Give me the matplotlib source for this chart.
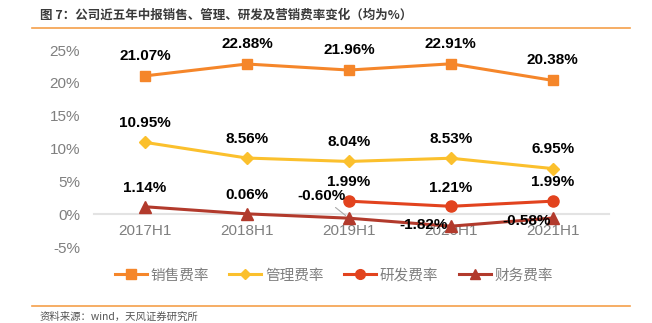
import matplotlib.pyplot as plt
from matplotlib.lines import Line2D

plt.rcParams['font.family'] = ['Liberation Sans', 'Noto Sans CJK SC', 'DejaVu Sans']

periods = ['2017H1', '2018H1', '2019H1', '2020H1', '2021H1']
sales = [21.07, 22.88, 21.96, 22.91, 20.38]
admin = [10.95, 8.56, 8.04, 8.53, 6.95]
rnd = [None, None, 1.99, 1.21, 1.99]
finance = [1.14, 0.06, -0.60, -1.82, -0.58]
series_names = ['销售费率', '管理费率', '研发费率', '财务费率']
yticks = [-5, 0, 5, 10, 15, 20, 25]

c_sales = '#F5862A'
c_admin = '#FBC02D'
c_rnd = '#E2431E'
c_fin = '#B23A2C'
gray = '#7f7f7f'
cjk = ['Noto Sans CJK SC', 'DejaVu Sans']

fig = plt.figure(figsize=(6.52, 3.23), dpi=100)
ax = fig.add_axes([0.144, 0.229, 0.790, 0.622])
x = list(range(len(periods)))

ax.plot(x, sales, color=c_sales, lw=2.2, marker='s', ms=7)
ax.plot(x, admin, color=c_admin, lw=2.2, marker='D', ms=6)
xr = [i for i, v in zip(x, rnd) if v is not None]
vr = [v for v in rnd if v is not None]
ax.plot(xr, vr, color=c_rnd, lw=2.2, marker='o', ms=8)
ax.plot(x, finance, color=c_fin, lw=2.2, marker='^', ms=8)

lab = dict(ha='center', va='center', fontsize=11, fontweight='bold', color='black')
for i, v in enumerate(sales):
    ax.annotate(f'{v:.2f}%', (i, v), xytext=(0, 14.5), textcoords='offset points', **lab)
for i, v in enumerate(admin):
    ax.annotate(f'{v:.2f}%', (i, v), xytext=(0, 14), textcoords='offset points', **lab)
for i, v in zip(xr, vr):
    ax.annotate(f'{v:.2f}%', (i, v), xytext=(0, 13.5), textcoords='offset points', **lab)
for i, v in enumerate(finance[:2]):
    ax.annotate(f'{v:.2f}%', (i, v), xytext=(0, 13.5), textcoords='offset points', **lab)
ax.annotate(f'{finance[2]:.2f}%', (2, finance[2]), xytext=(-20, 16),
            textcoords='offset points',
            arrowprops=dict(arrowstyle='-', color='#aaaaaa', lw=0.8, shrinkA=2, shrinkB=3), **lab)
ax.annotate(f'{finance[3]:.2f}%', (3, finance[3]), xytext=(-20, 1), textcoords='offset points', **lab)
ax.annotate(f'{finance[4]:.2f}%', (4, finance[4]), xytext=(-19, -2), textcoords='offset points', **lab)

ax.set_xlim(-0.5, 4.55)
ax.set_ylim(-5.3, 25.3)
ax.set_yticks(yticks)
ax.set_yticklabels([f'{t}%' for t in yticks])
ax.set_xticks(x)
ax.set_xticklabels(periods)
for s in ['top', 'right', 'left']:
    ax.spines[s].set_visible(False)
ax.spines['bottom'].set_position(('data', 0))
ax.spines['bottom'].set_color('#e3e3e3')
ax.spines['bottom'].set_linewidth(1.5)
ax.spines['bottom'].set_zorder(0)
ax.tick_params(axis='both', length=0, colors=gray, labelsize=11)
ax.tick_params(axis='x', pad=7)
ax.tick_params(axis='y', pad=10)

handles = [
    Line2D([], [], color=c_sales, lw=2.2, marker='s', ms=7),
    Line2D([], [], color=c_admin, lw=2.2, marker='D', ms=5),
    Line2D([], [], color=c_rnd, lw=2.2, marker='o', ms=7),
    Line2D([], [], color=c_fin, lw=2.2, marker='^', ms=7),
]
fig.legend(handles, series_names, loc='center', bbox_to_anchor=(0.512, 0.147),
           ncol=4, frameon=False, prop={'family': cjk, 'size': 10.5}, labelcolor=gray,
           handlelength=2.2, columnspacing=1.4, handletextpad=0.25)

fig.text(0.061, 0.953, '图 7：公司近五年中报销售、管理、研发及营销费率变化（均为%）',
         fontsize=9, fontweight='bold', color='#3a3a3a', va='center', family=cjk)
fig.add_artist(Line2D([0.049, 0.966], [0.913, 0.913], color='#F5A04A', lw=1.2))
fig.add_artist(Line2D([0.049, 0.966], [0.053, 0.053], color='#F5A04A', lw=1.2))
fig.text(0.061, 0.018, '资料来源：wind，天风证券研究所', fontsize=7.5, color='#555555',
         va='center', family=cjk)

fig.savefig('out.png', dpi=100)
